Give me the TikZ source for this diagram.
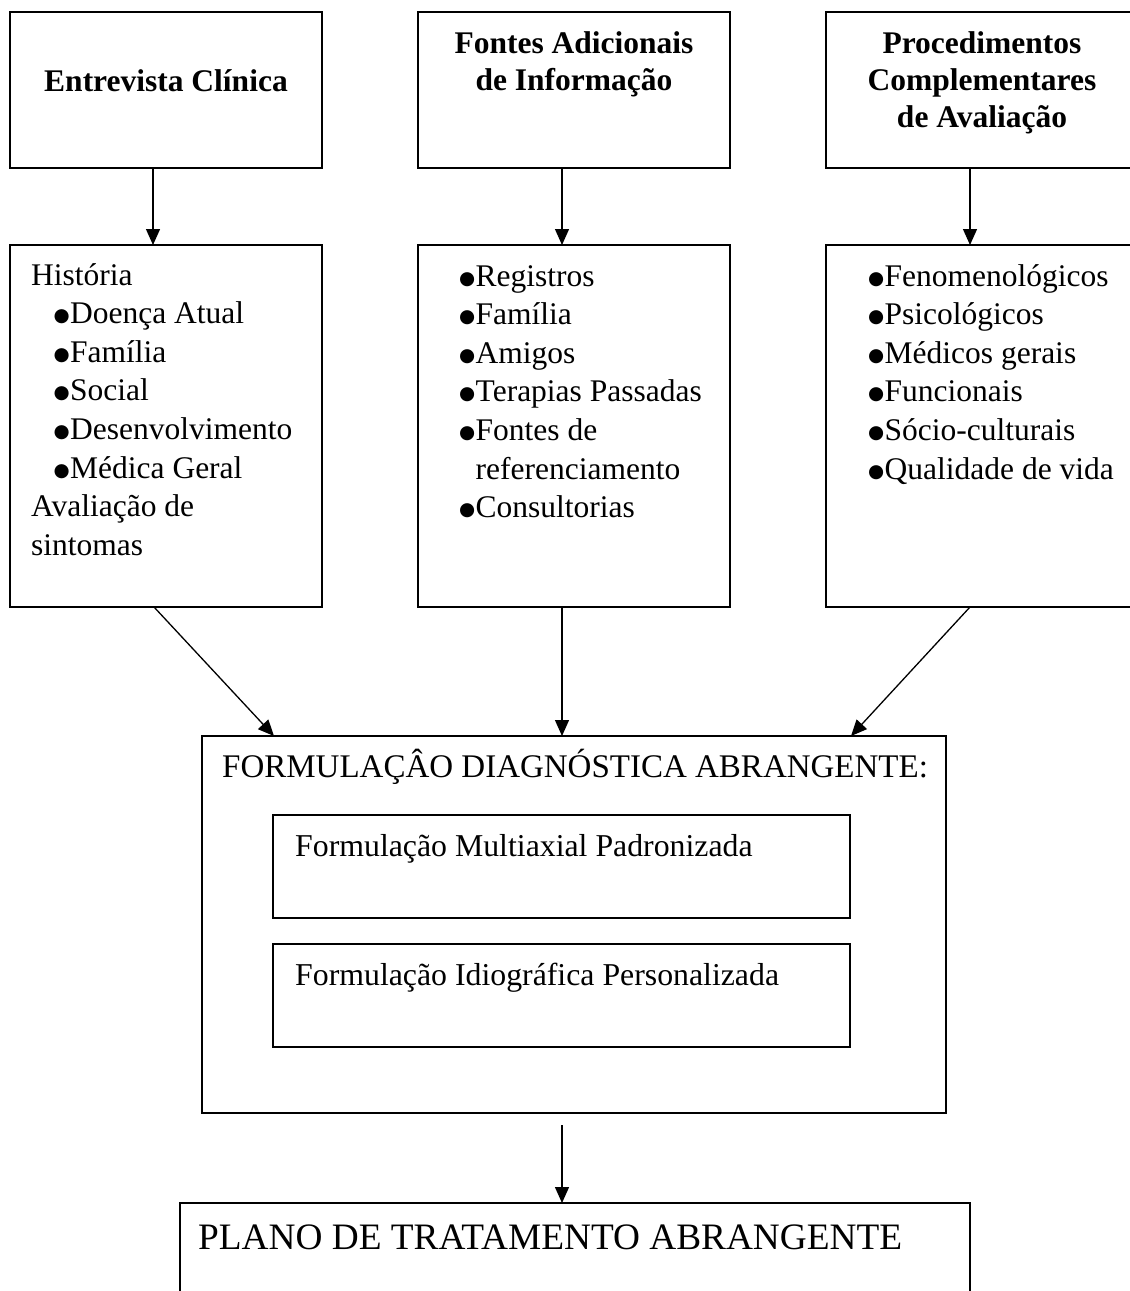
\documentclass[tikz,border=0pt]{standalone}
\usepackage{fontspec}
\setmainfont{Liberation Serif}
\newfontfamily\dvs{DejaVu Sans}
\usetikzlibrary{arrows.meta}
\newcommand\bl{\makebox[0pt][r]{\makebox[15pt][l]{\hspace{-1.5pt}\raisebox{2pt}{\dvs\fontsize{18.5}{18.5}\selectfont ●}}}}
\begin{document}
\begin{tikzpicture}[x=1pt,y=-1pt,
  box/.style={draw, line width=1.9pt, rectangle, inner sep=0pt, outer sep=0pt, anchor=north west},
  ttl/.style={anchor=base, inner sep=0pt, font=\fontsize{31.5}{37}\selectfont\bfseries},
  txt/.style={anchor=base west, inner sep=0pt, font=\fontsize{31.5}{38.6}\selectfont},
  arr/.style={-{Triangle[length=16pt,width=14pt]}, line width=1.3pt}]
\useasboundingbox (0,0) rectangle (1130,1291);
% top row
\node[box, minimum width=312pt, minimum height=156pt] (t1) at (10,12) {};
\node[box, minimum width=312pt, minimum height=156pt] (t2) at (418,12) {};
\node[box, minimum width=312pt, minimum height=156pt] (t3) at (826,12) {};
% middle row
\node[box, minimum width=312pt, minimum height=362pt] (m1) at (10,245) {};
\node[box, minimum width=312pt, minimum height=362pt] (m2) at (418,245) {};
\node[box, minimum width=312pt, minimum height=362pt] (m3) at (826,245) {};
% formulation
\node[box, minimum width=744pt, minimum height=377pt] (F) at (202,736) {};
\node[box, minimum width=577pt, minimum height=103pt] (i1) at (273,815) {};
\node[box, minimum width=577pt, minimum height=103pt] (i2) at (273,944) {};
% plan
\node[box, minimum width=790pt, minimum height=120pt] (P) at (180,1203) {};
% titles
\node[ttl] (t1a) at (166,91) {Entrevista Clínica};
\node[ttl] (t2a) at (574,53) {Fontes Adicionais};
\node[ttl] (t2b) at (574,90) {de Informação};
\node[ttl] (t3a) at (982,53) {Procedimentos};
\node[ttl] (t3b) at (982,90) {Complementares};
\node[ttl] (t3c) at (982,127) {de Avaliação};
% box 1 list
\node[txt] (h0) at (31,285) {História};
\foreach \t [count=\i] in {Doença Atual,Família,Social,Desenvolvimento,Médica Geral}
  \node[txt] (h\i) at (70,{285+38.6*\i}) {\bl\t};
\node[txt] (h6) at (31,516.6) {Avaliação de};
\node[txt] (h7) at (31,555.2) {sintomas};
% box 2 list
\foreach \t [count=\i from 0] in {\bl Registros,\bl Família,\bl Amigos,\bl Terapias Passadas,\bl Fontes de,referenciamento,\bl Consultorias}
  \node[txt] (f\i) at (475.5,{286+38.6*\i}) {\t};
% box 3 list
\foreach \t [count=\i from 0] in {Fenomenológicos,Psicológicos,Médicos gerais,Funcionais,Sócio-culturais,Qualidade de vida}
  \node[txt] (p\i) at (884.5,{286+38.6*\i}) {\bl\t};
% formulation texts
\node[anchor=base west, inner sep=0pt, font=\fontsize{33}{40}\selectfont] (Ft) at (222,777) {FORMULAÇÂO DIAGNÓSTICA ABRANGENTE:};
\node[anchor=base west, inner sep=0pt, font=\fontsize{31.8}{38}\selectfont] (i1t) at (295,856) {Formulação Multiaxial Padronizada};
\node[anchor=base west, inner sep=0pt, font=\fontsize{31.8}{38}\selectfont] (i2t) at (295,985) {Formulação Idiográfica Personalizada};
\node[anchor=base west, inner sep=0pt, font=\fontsize{37.3}{44}\selectfont] (Pt) at (198,1249) {PLANO DE TRATAMENTO ABRANGENTE};
% arrows
\draw[arr] ([xshift=-13pt]t1.south) -- ([xshift=-13pt]m1.north);
\draw[arr] ([xshift=-12pt]t2.south) -- ([xshift=-12pt]m2.north);
\draw[arr] ([xshift=-12pt]t3.south) -- ([xshift=-12pt]m3.north);
\draw[arr] ([xshift=-12pt]m1.south) -- ([xshift=72pt]F.north west);
\draw[arr] ([xshift=-12pt]m2.south) -- ([xshift=-12pt]F.north);
\draw[arr] ([xshift=-12pt]m3.south) -- ([xshift=-95pt]F.north east);
\coordinate (Fout) at ([shift={(-12pt,-12pt)}]F.south);
\draw[arr] (Fout) -- ([xshift=-13pt]P.north);
\end{tikzpicture}
\end{document}
